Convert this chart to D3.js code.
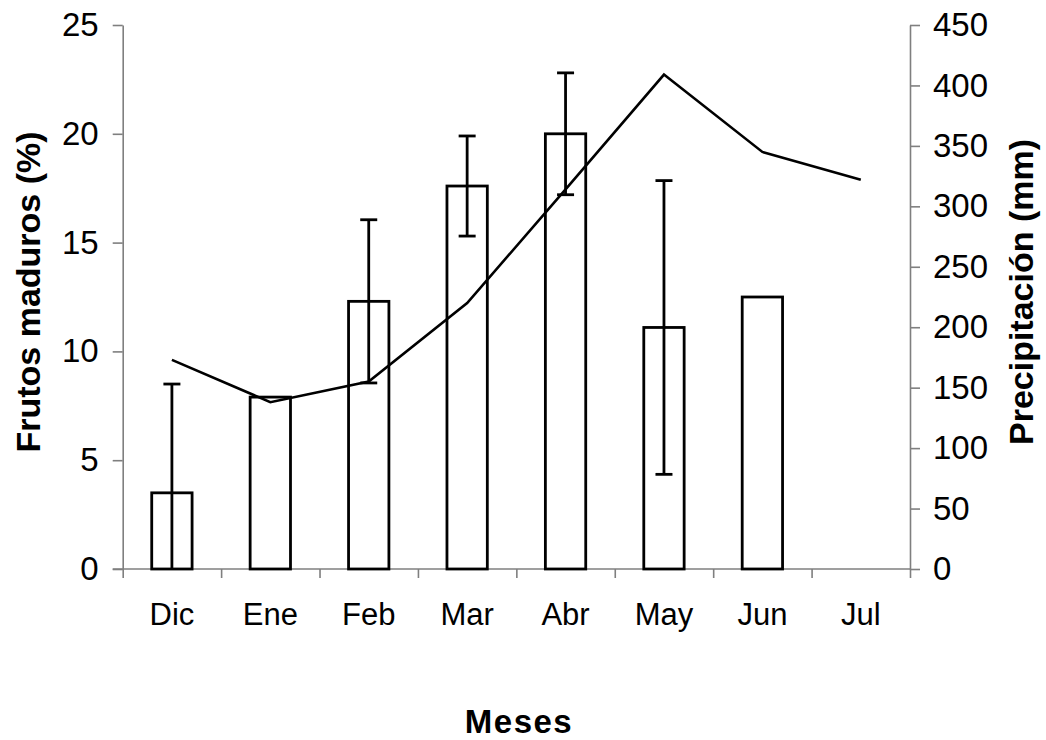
<!DOCTYPE html>
<html>
<head>
<meta charset="utf-8">
<script src="https://cdn.jsdelivr.net/npm/d3@7/dist/d3.min.js"></script>
<style>
  html, body { margin: 0; padding: 0; background: #fff; }
  svg { display: block; font-family: "Liberation Sans", Arial, sans-serif; }
</style>
</head>
<body>
<svg id="chart" width="1046" height="740"></svg>
<script>
// Monthly mature fruit (%) with error bars, and monthly precipitation (mm)
const meses = ["Dic", "Ene", "Feb", "Mar", "Abr", "May", "Jun", "Jul"];
const frutos = [3.5, 7.9, 12.3, 17.6, 20.0, 11.1, 12.5, null];
const errores = [5.0, 0, 3.75, 2.3, 2.8, 6.75, 0, null];
const precipitacion = [173, 138, 155, 220, 314, 409, 345, 322];
const ticksFrutos = [0, 5, 10, 15, 20, 25];
const ticksPrecip = [0, 50, 100, 150, 200, 250, 300, 350, 400, 450];

const svg = d3.select("#chart");
const plotLeft = 122.7, plotRight = 910, plotTop = 25, plotBottom = 569;
const axisColor = "#7f7f7f";
const fontStack = "'Liberation Sans', Arial, sans-serif";

const x = d3.scaleBand().domain(meses).range([plotLeft, plotRight]).padding(0);
const xEdges = d3.scaleLinear().domain([0, meses.length]).range([plotLeft, plotRight]);
const yL = d3.scaleLinear().domain([0, 25]).range([plotBottom, plotTop]);
const yR = d3.scaleLinear().domain([0, 450]).range([plotBottom, plotTop]);

const barW = x.bandwidth() * 0.41;
const cx = m => x(m) + x.bandwidth() / 2;

// left axis
const gL = svg.append("g").attr("transform", `translate(${plotLeft},0)`)
  .call(d3.axisLeft(yL).tickValues(ticksFrutos).tickSize(10).tickSizeOuter(0).tickPadding(14));
// right axis
const gR = svg.append("g").attr("transform", `translate(${plotRight},0)`)
  .call(d3.axisRight(yR).tickValues(ticksPrecip).tickSize(10).tickSizeOuter(0).tickPadding(13));
// bottom axis: ticks at category boundaries
const gB = svg.append("g").attr("transform", `translate(0,${plotBottom})`)
  .call(d3.axisBottom(xEdges).tickValues(d3.range(meses.length + 1)).tickSize(9).tickSizeOuter(0).tickFormat(""));
// category labels
const gC = svg.append("g").attr("transform", `translate(0,${plotBottom})`)
  .call(d3.axisBottom(x).tickSize(0).tickPadding(34));

[gL, gR, gB, gC].forEach(g => {
  g.selectAll(".domain").attr("stroke", axisColor).attr("stroke-width", 1.6);
  g.selectAll(".tick line").attr("stroke", axisColor).attr("stroke-width", 1.6);
  g.selectAll("text").attr("fill", "#000").attr("font-family", fontStack);
});
gL.selectAll("text").attr("font-size", 33);
gR.selectAll("text").attr("font-size", 33);
gC.selectAll("text").attr("font-size", 31);
gC.select(".domain").remove();
gB.select(".domain").attr("d", `M${plotLeft - 10},0H${plotRight}`);

// bars
const barData = meses.map((m, i) => ({ m, v: frutos[i], e: errores[i] })).filter(d => d.v != null);
svg.append("g").selectAll("rect").data(barData).join("rect")
  .attr("x", d => cx(d.m) - barW / 2)
  .attr("y", d => yL(d.v))
  .attr("width", barW)
  .attr("height", d => yL(0) - yL(d.v))
  .attr("fill", "#fff")
  .attr("stroke", "#000")
  .attr("stroke-width", 2.8);

// error bars
const capW = 17;
const eg = svg.append("g").attr("stroke", "#000").attr("stroke-width", 2.8).attr("fill", "none");
barData.filter(d => d.e > 0).forEach(d => {
  const hi = d.v + d.e, lo = Math.max(0, d.v - d.e);
  const c = cx(d.m);
  eg.append("line").attr("x1", c).attr("x2", c).attr("y1", yL(hi)).attr("y2", yL(lo));
  eg.append("line").attr("x1", c - capW / 2).attr("x2", c + capW / 2).attr("y1", yL(hi)).attr("y2", yL(hi));
  if (d.v - d.e > 0) {
    eg.append("line").attr("x1", c - capW / 2).attr("x2", c + capW / 2).attr("y1", yL(lo)).attr("y2", yL(lo));
  }
});

// precipitation line
const line = d3.line().x((d, i) => cx(meses[i])).y(d => yR(d));
svg.append("path").datum(precipitacion)
  .attr("d", line)
  .attr("fill", "none")
  .attr("stroke", "#000")
  .attr("stroke-width", 2.6)
  .attr("stroke-linejoin", "miter");

// axis titles
svg.append("text")
  .attr("transform", "translate(40,292) rotate(-90)")
  .attr("text-anchor", "middle")
  .attr("font-size", 34).attr("font-weight", "bold")
  .text("Frutos maduros (%)");
svg.append("text")
  .attr("transform", "translate(1033,292) rotate(-90)")
  .attr("text-anchor", "middle")
  .attr("font-size", 34).attr("font-weight", "bold")
  .text("Precipitación (mm)");
svg.append("text")
  .attr("x", 519).attr("y", 733)
  .attr("text-anchor", "middle")
  .attr("font-size", 33).attr("font-weight", "bold")
  .attr("letter-spacing", 1.5)
  .text("Meses");
</script>
</body>
</html>
